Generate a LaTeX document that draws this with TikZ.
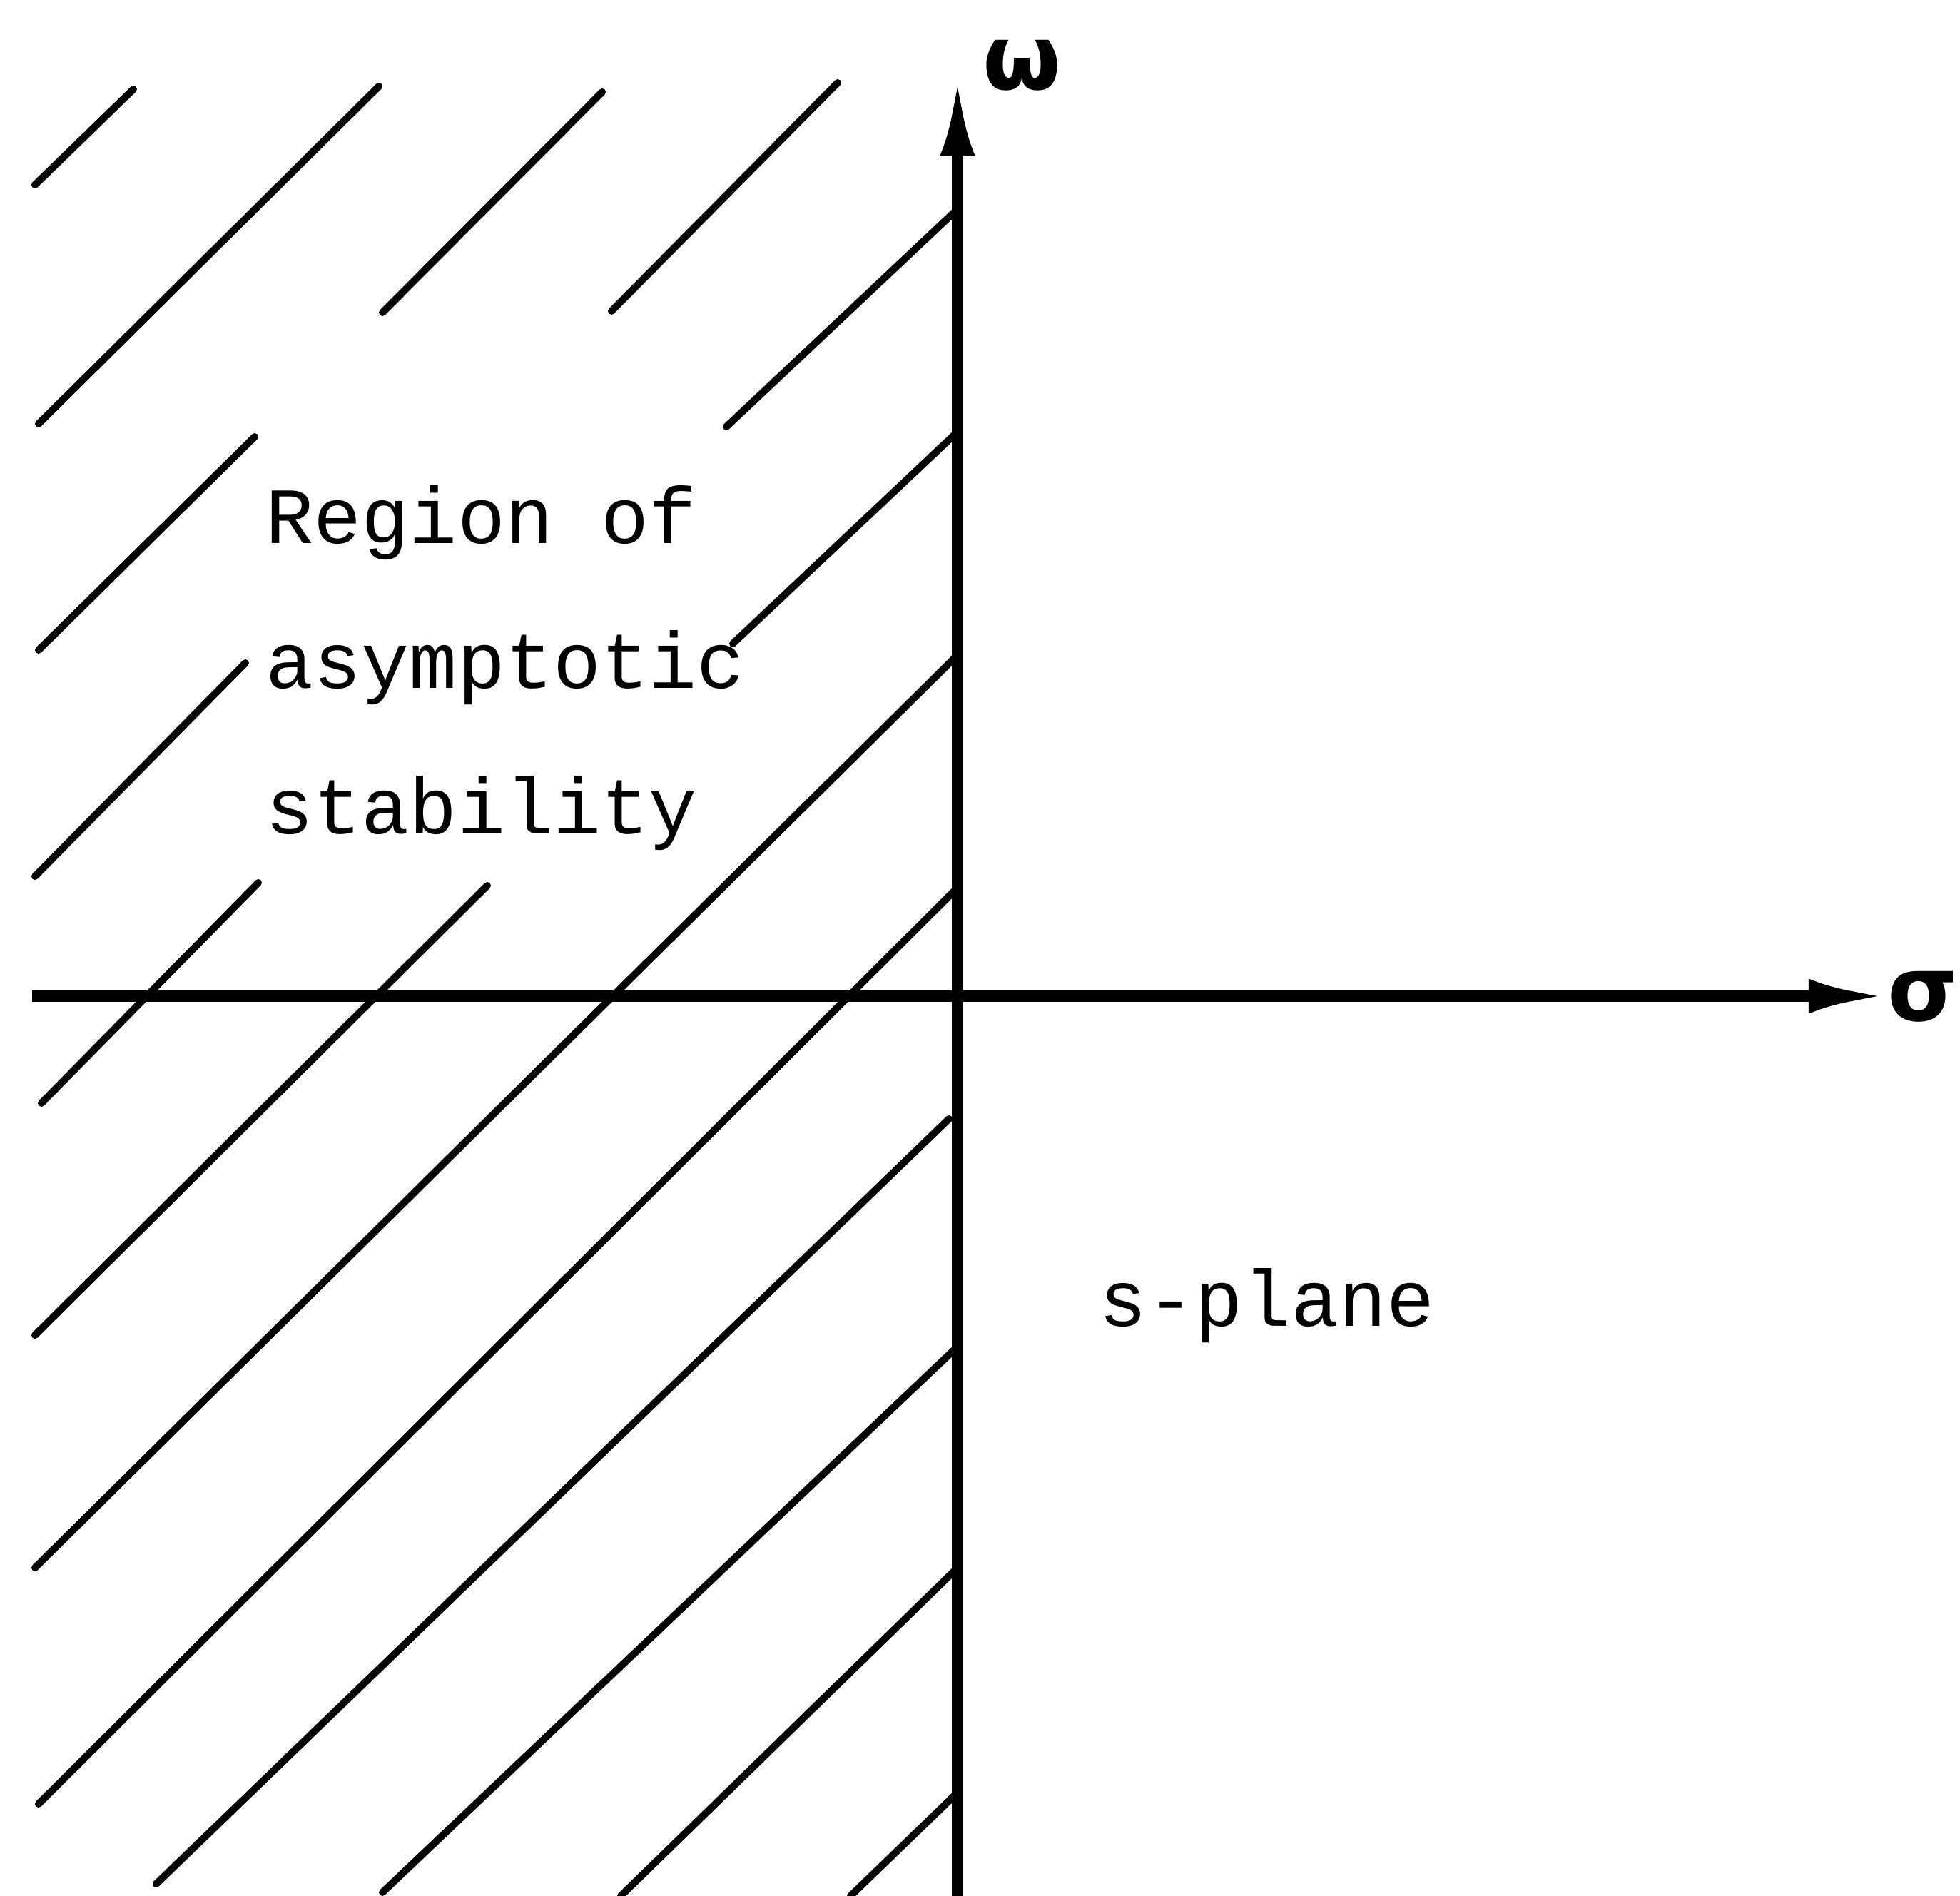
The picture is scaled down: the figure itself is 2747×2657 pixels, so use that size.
\documentclass[tikz,border=0pt]{standalone}
\usepackage{fontspec}
\setmonofont{Liberation Mono}
\newfontfamily\greekfont{DejaVu Sans}
\usetikzlibrary{arrows.meta}
\tikzset{
  axis/.style={line width=1.6mm, -{Latex[length=11mm, width=4.8mm]}},
  hatch/.style={line width=1mm, line cap=round},
  note/.style={font=\ttfamily\fontsize{31.8}{57.8}\selectfont, inner sep=0pt, align=left},
  axlabel/.style={font=\greekfont\bfseries\fontsize{36}{40}\selectfont, inner sep=0pt},
}

\begin{document}
\begin{tikzpicture}[x=0.01cm, y=-0.01cm]
  \useasboundingbox (0,0) rectangle (2747,2657);
  % hatching of the left half plane
  \foreach \xa/\ya/\xb/\yb in {49/259/187/125, 54/594/531/121,
      54/911/357/612, 536/438/844/129, 49/1228/344/929, 857/436/1174/116,
      58/1546/362/1237, 1018/598/1340/295, 49/1871/683/1241, 1027/902/1340/607,
      49/2197/1340/920, 54/2528/1340/1246, 219/2640/1330/1568,
      536/2652/1340/1889, 870/2657/1340/2199, 1192/2657/1340/2514}
    \draw[hatch] (\xa,\ya) -- (\xb,\yb);
  % axes
  \coordinate (o) at (1342,1396);
  \coordinate (jlo) at (1342,2657);
  \coordinate (jhi) at (1342,108);
  \coordinate (rlo) at (45,1396);
  \coordinate (rhi) at (2645,1396);
  \draw[axis] (jlo) -- (jhi);
  \draw[axis] (rlo) -- (rhi);
  \node[axlabel] (w) at (1433,92) {ω};
  \node[axlabel, anchor=east] (s) at (2745,1397) {σ};
  % texts
  \node[note, anchor=base west] (region) at (372,1168) {Region of\\asymptotic\\stability};
  \node[note, anchor=base west] (plane) at (1540,1858) {s-plane};
\end{tikzpicture}
\end{document}
